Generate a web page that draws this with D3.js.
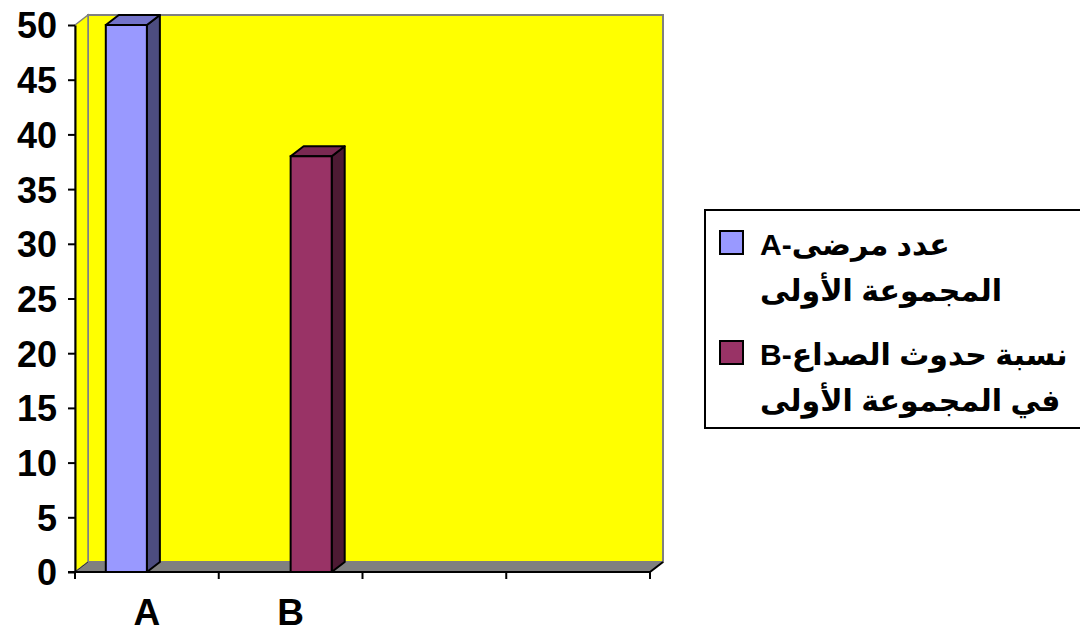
<!DOCTYPE html>
<html>
<head>
<meta charset="utf-8">
<script src="https://cdn.jsdelivr.net/npm/d3@7"></script>
<style>
  html, body { margin: 0; padding: 0; background: #fff; }
  svg { display: block; }
  text { font-family: "Liberation Sans", Arial, "DejaVu Sans", sans-serif; font-weight: bold; fill: #000; }
</style>
</head>
<body>
<svg id="chart" width="1080" height="634"></svg>
<script>
// Categories along the floor (only the first two carry a label)
const categories = ["c1", "c2", "c3", "c4"];
const categoryLabels = ["A", "B", "", ""];

// Series shown in the legend
const seriesNames = ["A-عدد مرضى", "B-نسبة حدوث الصداع"];
const seriesNamesLine2 = ["المجموعة الأولى", "في المجموعة الأولى"];
const seriesA = [50, null, null, null];
const seriesB = [null, 38, null, null];

// Value axis
const yTicks = [0, 5, 10, 15, 20, 25, 30, 35, 40, 45, 50];

// Face colours: front, top, side
const faceColors = [
  { front: "#9999FF", top: "#7373C9", side: "#4D4D80" },
  { front: "#993366", top: "#7A2952", side: "#4D1A33" }
];

const svg = d3.select("#chart");

// Plot frame (front plane) and 3D depth offset
const plotL = 75, plotR = 650, plotT = 25, plotB = 572;
const dx = 13, dy = -10;

const x = d3.scaleBand().domain(categories).range([plotL, plotR]);
const xs = d3.scaleBand().domain([0, 1]).range([0, x.bandwidth()])
  .paddingInner(0).paddingOuter(0.75);
const y = d3.scaleLinear().domain([0, 50]).range([plotB, plotT]);

const g = svg.append("g");

// Back wall
g.append("rect")
  .attr("x", plotL + dx).attr("y", plotT + dy)
  .attr("width", plotR - plotL).attr("height", plotB - plotT)
  .attr("fill", "#FFFF00").attr("stroke", "#808080").attr("stroke-width", 2);

// Side wall
g.append("polygon")
  .attr("points", [[plotL, plotT], [plotL + dx, plotT + dy], [plotL + dx, plotB + dy], [plotL, plotB]].join(" "))
  .attr("fill", "#FFFF00").attr("stroke", "#808080").attr("stroke-width", 1.5);

// Floor
g.append("polygon")
  .attr("points", [[plotL, plotB], [plotR, plotB], [plotR + dx, plotB + dy], [plotL + dx, plotB + dy]].join(" "))
  .attr("fill", "#808080").attr("stroke", "#808080").attr("stroke-width", 1);
g.append("line")
  .attr("x1", plotR).attr("y1", plotB).attr("x2", plotR + dx).attr("y2", plotB + dy)
  .attr("stroke", "#000").attr("stroke-width", 2);
g.append("line")
  .attr("x1", plotL).attr("y1", plotB).attr("x2", plotL + dx).attr("y2", plotB + dy)
  .attr("stroke", "#333").attr("stroke-width", 1);

// Bars as 3D boxes
const bars = [];
[seriesA, seriesB].forEach((vals, si) => {
  vals.forEach((v, ci) => {
    if (v == null) return;
    bars.push({ si, ci, v });
  });
});

const barG = g.selectAll("g.bar").data(bars).join("g").attr("class", "bar");
barG.each(function (d) {
  const x0 = x(categories[d.ci]) + xs(d.si);
  const x1 = x0 + xs.bandwidth();
  const yt = y(d.v), yb = y(0);
  const c = faceColors[d.si];
  const sel = d3.select(this);
  sel.append("polygon")
    .attr("points", [[x1, yt], [x1 + dx, yt + dy], [x1 + dx, yb + dy], [x1, yb]].join(" "))
    .attr("fill", c.side).attr("stroke", "#000").attr("stroke-width", 2).attr("stroke-linejoin", "round");
  sel.append("polygon")
    .attr("points", [[x0, yt], [x0 + dx, yt + dy], [x1 + dx, yt + dy], [x1, yt]].join(" "))
    .attr("fill", c.top).attr("stroke", "#000").attr("stroke-width", 2).attr("stroke-linejoin", "round");
  sel.append("rect")
    .attr("x", x0).attr("y", yt).attr("width", x1 - x0).attr("height", yb - yt)
    .attr("fill", c.front).attr("stroke", "#000").attr("stroke-width", 2);
});

// Value axis
const yAxis = g.append("g").attr("transform", `translate(${plotL},0)`)
  .call(d3.axisLeft(y).tickValues(yTicks).tickSize(7).tickPadding(11).tickSizeOuter(0));
yAxis.select(".domain").attr("stroke", "#000").attr("stroke-width", 2);
yAxis.selectAll(".tick line").attr("stroke", "#000").attr("stroke-width", 2);
yAxis.selectAll(".tick text")
  .attr("font-family", null).attr("font-size", null)
  .style("font-size", "36px").attr("dy", "0.36em");

// Category axis: tick marks at category boundaries, labels centred
const xAxis = g.append("g").attr("transform", `translate(0,${plotB})`)
  .call(d3.axisBottom(x).tickSize(0).tickSizeOuter(0)
    .tickFormat((d, i) => categoryLabels[i]));
xAxis.select(".domain").remove();
xAxis.selectAll(".tick text")
  .attr("font-family", null).attr("font-size", null)
  .attr("y", 53).attr("dy", 0)
  .style("font-size", "37px");

g.append("line")
  .attr("x1", plotL - 7).attr("x2", plotR).attr("y1", plotB).attr("y2", plotB)
  .attr("stroke", "#000").attr("stroke-width", 2);
const boundaries = categories.map(c => x(c)).concat([x.range()[1]]);
g.selectAll("line.xtick").data(boundaries).join("line").attr("class", "xtick")
  .attr("x1", d => d).attr("x2", d => d)
  .attr("y1", plotB).attr("y2", plotB + 7)
  .attr("stroke", "#000").attr("stroke-width", 2);

// Legend
const legend = svg.append("g");
legend.append("rect")
  .attr("x", 705).attr("y", 210).attr("width", 400).attr("height", 218)
  .attr("fill", "#fff").attr("stroke", "#000").attr("stroke-width", 2);

const entryY = [231, 341];
seriesNames.forEach((name, i) => {
  const ey = entryY[i];
  legend.append("rect")
    .attr("x", 720).attr("y", ey).attr("width", 23).attr("height", 23)
    .attr("fill", faceColors[i].front).attr("stroke", "#000").attr("stroke-width", 2);
  legend.append("text")
    .attr("x", 760).attr("y", ey + 24)
    .style("font-size", "30px")
    .text(name);
  legend.append("text")
    .attr("x", 760).attr("y", ey + 70)
    .style("font-size", "30px")
    .text(seriesNamesLine2[i]);
});
</script>
</body>
</html>
